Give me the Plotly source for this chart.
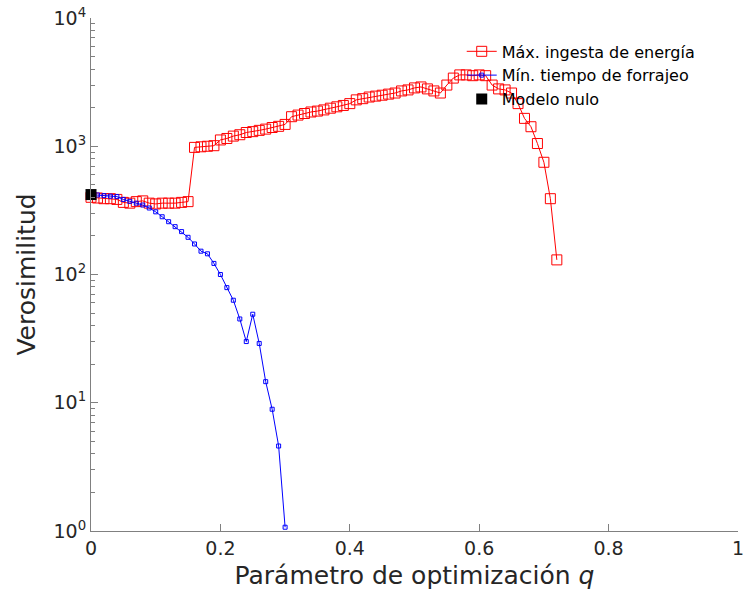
import plotly.graph_objects as go

# --- data ---
q_red = [round(i * 0.01, 2) for i in range(0, 73)]
v_red = [400, 395, 390, 390, 385, 365, 360, 370, 375, 360,
         355, 360, 360, 360, 365, 370, 980, 990, 1000, 1010,
         1120, 1150, 1200, 1230, 1280, 1300, 1330, 1360, 1400, 1430,
         1480, 1700, 1750, 1800, 1850, 1880, 1920, 1980, 2030, 2080,
         2150, 2300, 2350, 2420, 2460, 2500, 2550, 2600, 2700, 2750,
         2850, 2900, 2800, 2700, 2600, 3000, 3400, 3600, 3600, 3550,
         3600, 3550, 3000, 2800, 2750, 2600, 2150, 1650, 1420, 1050,
         750, 390, 130]

q_blue = [round(i * 0.01, 2) for i in range(0, 31)]
v_blue = [420, 417, 412, 408, 405, 385, 372, 360, 348, 330,
          308, 282, 258, 236, 216, 195, 173, 152, 145, 122,
          100, 79, 63, 45, 30, 49, 29, 14.6, 8.9, 4.6, 1.07]

q_null = [0]
v_null = [420]

names = ["Máx. ingesta de energía", "Mín. tiempo de forrajeo", "Modelo nulo"]
x_ticks = [0, 0.2, 0.4, 0.6, 0.8, 1]
x_ticktext = ["0", "0.2", "0.4", "0.6", "0.8", "1"]
y_ticks = [1, 10, 100, 1000, 10000]
y_ticktext = ["10<sup>0</sup>", "10<sup>1</sup>", "10<sup>2</sup>", "10<sup>3</sup>", "10<sup>4</sup>"]
y_minor = [m * 10 ** k for k in range(0, 4) for m in range(2, 10)]

FONT = "DejaVu Sans"
TXT = "#262626"
AX = "#808080"

fig = go.Figure()
fig.add_trace(go.Scatter(
    x=q_red, y=v_red, name=names[0], mode="lines+markers",
    line=dict(color="#ff0000", width=1),
    marker=dict(symbol="square-open", size=10, color="#ff0000", line=dict(width=1)),
    cliponaxis=False))
fig.add_trace(go.Scatter(
    x=q_blue, y=v_blue, name=names[1], mode="lines+markers",
    line=dict(color="#0000ff", width=1),
    marker=dict(symbol="square-open", size=4, color="#0000ff", line=dict(width=1)),
    cliponaxis=False))
fig.add_trace(go.Scatter(
    x=q_null, y=v_null, name=names[2], mode="markers",
    marker=dict(symbol="square", size=11, color="black"),
    cliponaxis=False))

fig.update_layout(
    width=746, height=599,
    margin=dict(l=91, r=2, t=18, b=68),
    paper_bgcolor="white", plot_bgcolor="white",
    font=dict(family=FONT, color=TXT),
    showlegend=True,
    legend=dict(x=0.573, y=0.968, xanchor="left", yanchor="top",
                bgcolor="rgba(0,0,0,0)", borderwidth=0,
                font=dict(size=16, family=FONT, color="#000000"),
                tracegroupgap=0),
)
fig.update_xaxes(
    range=[0, 1], showgrid=False, zeroline=False,
    showline=True, linecolor=AX, linewidth=1,
    ticks="inside", ticklen=7, tickcolor=AX,
    tickvals=x_ticks, ticktext=x_ticktext,
    ticklabeloverflow="allow",
    tickfont=dict(size=19, family=FONT, color=TXT),
    title=dict(text="Parámetro de optimización <i>q</i>",
               font=dict(size=25, family=FONT, color=TXT), standoff=8),
)
fig.update_yaxes(
    type="log", range=[0, 4], showgrid=False, zeroline=False,
    showline=True, linecolor=AX, linewidth=1,
    ticks="inside", ticklen=7, tickcolor=AX,
    tickvals=y_ticks, ticktext=y_ticktext,
    tickfont=dict(size=19, family=FONT, color=TXT),
    minor=dict(tickvals=y_minor, ticks="inside", ticklen=4, tickcolor=AX),
    title=dict(text="Verosimilitud",
               font=dict(size=25, family=FONT, color=TXT), standoff=10),
)

fig.write_html("out.html")
